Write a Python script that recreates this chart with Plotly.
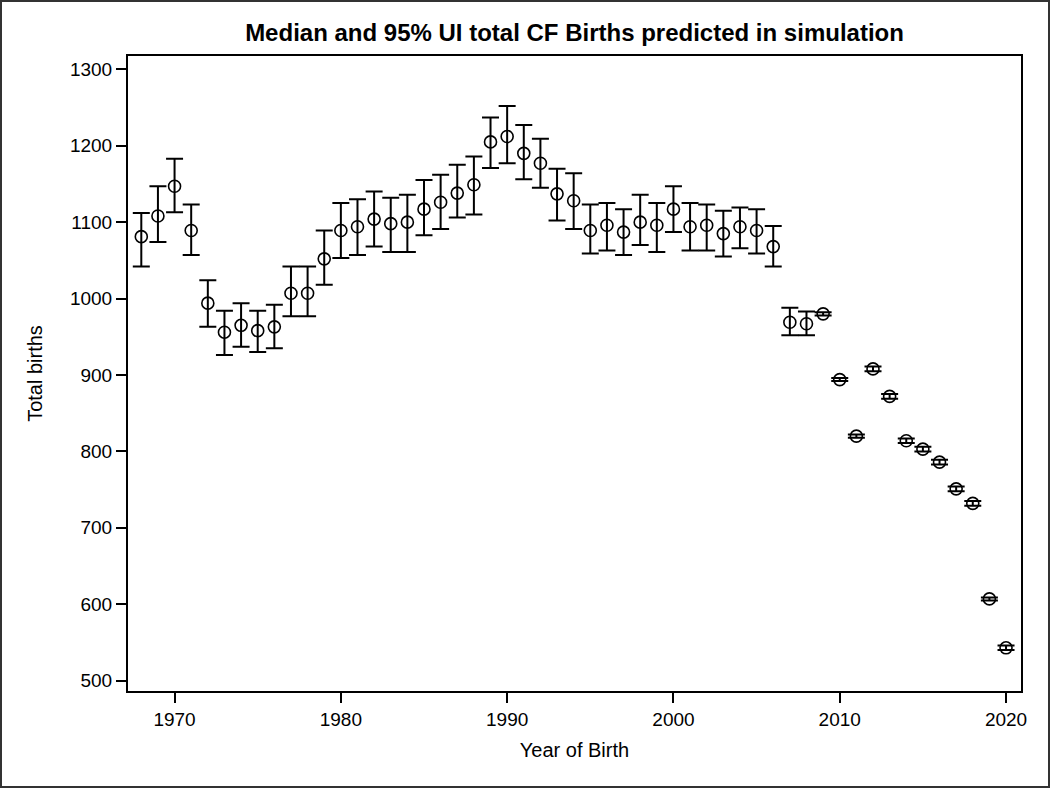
import plotly.graph_objects as go

years = list(range(1968, 2021))
median = [1081, 1108, 1147, 1089, 994, 956, 965, 958, 963, 1007, 1007, 1052,
          1089, 1094, 1104, 1098, 1100, 1117, 1126, 1138, 1149, 1205, 1212,
          1190, 1177, 1137, 1128, 1089, 1096, 1087, 1100, 1096, 1117, 1094,
          1096, 1085, 1094, 1089, 1068, 969, 967, 980, 894, 820, 908, 872,
          814, 803, 786, 751, 732, 607, 543]
lower = [1042, 1074, 1113, 1057, 963, 926, 937, 930, 935, 977, 977, 1018,
         1053, 1057, 1068, 1061, 1061, 1083, 1091, 1106, 1110, 1171, 1177,
         1156, 1145, 1102, 1091, 1059, 1063, 1057, 1070, 1061, 1087, 1063,
         1063, 1055, 1066, 1059, 1042, 952, 952, 978, 892, 818, 905, 869,
         811, 800, 783, 748, 729, 605, 540]
upper = [1112, 1147, 1183, 1123, 1024, 984, 994, 984, 992, 1042, 1042, 1089,
         1125, 1130, 1140, 1132, 1136, 1155, 1162, 1175, 1186, 1237, 1252,
         1227, 1209, 1170, 1164, 1123, 1125, 1117, 1136, 1125, 1147, 1125,
         1123, 1115, 1119, 1117, 1095, 988, 983, 982, 896, 822, 911, 875,
         817, 806, 789, 754, 735, 609, 546]

x_ticks = [1970, 1980, 1990, 2000, 2010, 2020]
y_ticks = [500, 600, 700, 800, 900, 1000, 1100, 1200, 1300]

err_plus = [u - m for u, m in zip(upper, median)]
err_minus = [m - l for m, l in zip(median, lower)]

FONT = "Arial, 'Liberation Sans', sans-serif"

fig = go.Figure()
fig.add_trace(go.Scatter(
    x=years, y=median, mode="markers",
    marker=dict(symbol="circle-open", size=12, color="black",
                line=dict(width=1.6, color="black")),
    error_y=dict(type="data", symmetric=False, array=err_plus,
                 arrayminus=err_minus, color="black", thickness=2, width=8.5),
    showlegend=False,
))

W, H = 1050, 788
L, R, T, B = 128, 29, 56, 97
pw, ph = W - L - R, H - T - B

fig.update_layout(
    width=W, height=H,
    margin=dict(l=L, r=R, t=T, b=B, pad=0),
    paper_bgcolor="white", plot_bgcolor="white",
    font=dict(family=FONT, color="black"),
    title=dict(text="<b>Median and 95% UI total CF Births predicted in simulation</b>",
               x=(L + pw / 2) / W, xanchor="center", xref="container",
               y=1 - 33 / H, yanchor="middle", yref="container",
               font=dict(size=24, family=FONT, color="black")),
    xaxis=dict(range=[1967.2, 2020.9], tickvals=x_ticks, ticks="outside",
               ticklen=10, tickwidth=1.5, tickcolor="black",
               showline=True, linecolor="black", linewidth=2, mirror=True,
               showgrid=False, zeroline=False,
               tickfont=dict(size=19, family=FONT, color="black"),
               title=dict(text="Year of Birth", standoff=14,
                          font=dict(size=20, family=FONT, color="black"))),
    yaxis=dict(range=[486.5, 1317.4], tickvals=y_ticks, ticks="outside",
               ticklen=10, tickwidth=1.5, tickcolor="black",
               showline=True, linecolor="black", linewidth=2, mirror=True,
               showgrid=False, zeroline=False,
               tickfont=dict(size=19, family=FONT, color="black"),
               title=dict(text="Total births", standoff=22,
                          font=dict(size=20, family=FONT, color="black"))),
    shapes=[dict(type="rect", xref="paper", yref="paper",
                 x0=-(L - 1) / pw, x1=1 + (R - 1) / pw,
                 y0=-(B - 1) / ph, y1=1 + (T - 1) / ph,
                 line=dict(color="#333333", width=2), layer="above")],
)

fig.write_html("out.html", config={"displayModeBar": False},
               post_script="document.body.style.margin='0';document.body.style.overflow='hidden';")
